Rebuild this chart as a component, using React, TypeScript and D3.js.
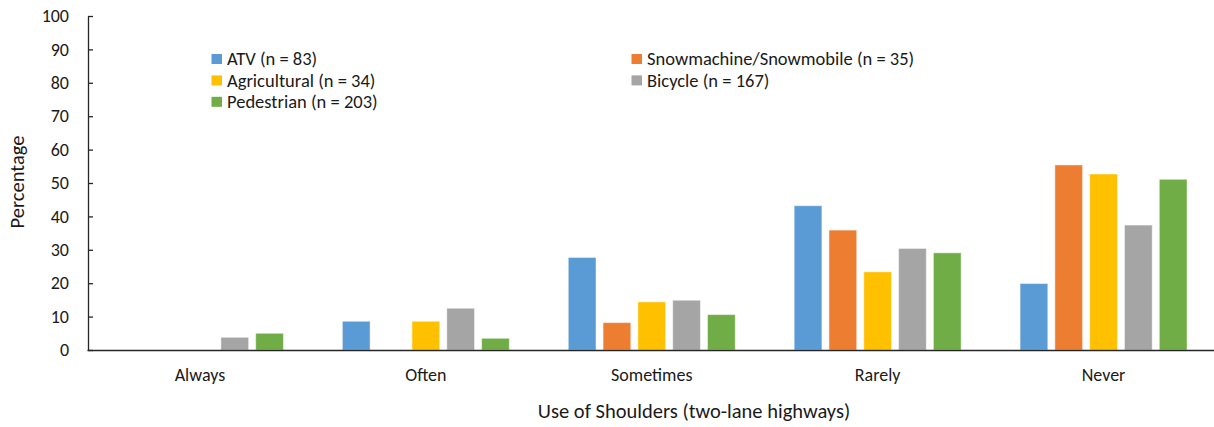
import { useEffect, useRef } from 'react';
import * as d3 from 'd3';

// categories along the x axis
const categories = ['Always', 'Often', 'Sometimes', 'Rarely', 'Never'];
// one series per road user group
const seriesNames = [
  'ATV (n = 83)',
  'Snowmachine/Snowmobile (n = 35)',
  'Agricultural (n = 34)',
  'Bicycle (n = 167)',
  'Pedestrian (n = 203)',
];
const atv = [0, 8.6, 27.7, 43.2, 19.9];
const snowmachine = [0, 0, 8.2, 35.9, 55.4];
const agricultural = [0, 8.6, 14.4, 23.4, 52.7];
const bicycle = [3.8, 12.5, 14.9, 30.4, 37.4];
const pedestrian = [5.0, 3.5, 10.6, 29.1, 51.1];
const yTicks = [0, 10, 20, 30, 40, 50, 60, 70, 80, 90, 100];

const colors = ['#5B9BD5', '#ED7D31', '#FFC000', '#A5A5A5', '#70AD47'];

export default function App() {
  const svgRef = useRef<SVGSVGElement>(null);

  useEffect(() => {
    if (!svgRef.current) return;
    const svg = d3.select(svgRef.current);
    svg.selectAll('*').remove();

    const W = 1214;
    const H = 427;
    const margin = { top: 16, right: 1, bottom: 77, left: 88 };
    const width = W - margin.left - margin.right;
    const height = H - margin.top - margin.bottom;
    const font = "Carlito, Calibri, 'Liberation Sans', Arial, sans-serif";

    const allSeries = [atv, snowmachine, agricultural, bicycle, pedestrian];

    // the category bands run a little past the right edge, like the original
    const x0 = d3.scaleBand<string>().domain(categories).range([-1, 1128.5]).paddingInner(0.261).paddingOuter(0.1305);
    const x1 = d3.scaleBand<number>().domain(d3.range(allSeries.length)).range([0, x0.bandwidth()]).paddingInner(0.204);
    const y = d3.scaleLinear().domain([0, 100]).range([height, 0]);

    const g = svg.append('g').attr('transform', `translate(${margin.left},${margin.top})`);

    // bars
    const groups = g.selectAll('.grp')
      .data(categories)
      .enter().append('g')
      .attr('transform', d => `translate(${x0(d)},0)`);

    groups.selectAll('rect')
      .data((_, ci) => allSeries.map((s, si) => ({ si, v: s[ci] })))
      .enter().append('rect')
      .filter(d => d.v > 0)
      .attr('x', d => x1(d.si)!)
      .attr('width', x1.bandwidth())
      .attr('y', d => y(d.v))
      .attr('height', d => height - y(d.v))
      .attr('fill', d => colors[d.si])
      .attr('stroke', '#ffffff')
      .attr('stroke-opacity', 0.45)
      .attr('stroke-width', 1);

    // y axis
    const yAxis = g.append('g')
      .call(d3.axisLeft(y).tickValues(yTicks).tickSizeInner(-5).tickSizeOuter(0).tickPadding(19));
    yAxis.select('.domain').attr('stroke', '#262626').attr('stroke-width', 1.3);
    yAxis.selectAll('.tick line').attr('stroke', '#262626').attr('stroke-width', 1.3);
    yAxis.selectAll('.tick text').attr('font-family', font).attr('font-size', 18).attr('fill', '#1a1a1a');

    // x axis
    const xAxis = g.append('g')
      .attr('transform', `translate(0,${height})`)
      .call(d3.axisBottom(x0).tickSize(0).tickPadding(18));
    xAxis.select('.domain').attr('stroke', '#262626').attr('stroke-width', 1.3);
    xAxis.selectAll('.tick text').attr('font-family', font).attr('font-size', 18).attr('fill', '#1a1a1a');

    // axis titles
    svg.append('text')
      .attr('transform', `translate(24,${margin.top + height / 2 - 1}) rotate(-90)`)
      .attr('text-anchor', 'middle')
      .attr('font-family', font)
      .attr('font-size', 20.5)
      .attr('fill', '#1a1a1a')
      .text('Percentage');

    svg.append('text')
      .attr('x', 694)
      .attr('y', 418)
      .attr('text-anchor', 'middle')
      .attr('font-family', font)
      .attr('font-size', 20.5)
      .attr('fill', '#1a1a1a')
      .text('Use of Shoulders (two-lane highways)');

    // legend, two columns filled row by row
    const legendCols = [211.5, 631.5];
    const legend = svg.append('g');
    seriesNames.forEach((name, i) => {
      const lx = legendCols[i % 2];
      const ly = 59 + Math.floor(i / 2) * 21.4;
      legend.append('rect')
        .attr('x', lx).attr('y', ly - 5)
        .attr('width', 10.5).attr('height', 10)
        .attr('fill', colors[i]);
      legend.append('text')
        .attr('x', lx + 15.5).attr('y', ly)
        .attr('dy', '0.35em')
        .attr('font-family', font)
        .attr('font-size', 18.5)
        .attr('fill', '#1a1a1a')
        .text(name);
    });
  }, []);

  return (
    <svg
      ref={svgRef}
      width={1214}
      height={427}
      style={{ position: 'absolute', left: 0, top: 0, background: '#ffffff' }}
    ></svg>
  );
}
